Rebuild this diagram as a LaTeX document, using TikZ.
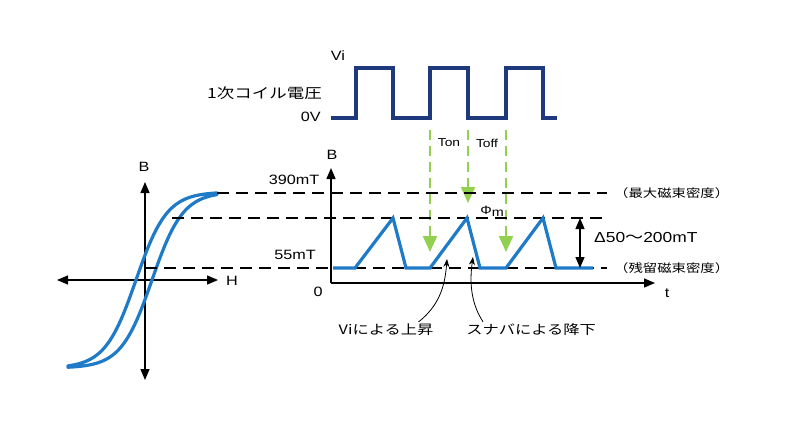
\documentclass[tikz,border=0pt]{standalone}
\usepackage{fontspec}
\setmainfont[FakeStretch=1.2]{Liberation Sans}
\newfontfamily\jp[FakeStretch=1.25]{Noto Sans CJK JP}
\usetikzlibrary{arrows.meta, positioning, calc}
\definecolor{navy}{HTML}{1F3A7C}
\definecolor{fluxblue}{HTML}{1F7AC8}
\definecolor{lgreen}{HTML}{92D050}

\begin{document}
\begin{tikzpicture}[x=1pt, y=-1pt,
    lbl/.style={inner sep=0pt, font=\fontsize{13.5}{15}\selectfont},
    jlbl/.style={inner sep=0pt, font=\jp\fontsize{13}{15}\selectfont},
    small/.style={inner sep=0pt, font=\fontsize{11.5}{13}\selectfont},
    axis/.style={line width=1.4pt, -{Triangle[length=11pt,width=9pt]}},
    guide/.style={line width=1.8pt, dash pattern=on 12pt off 7pt},
    timing/.style={lgreen, line width=2pt, dash pattern=on 10pt off 6pt},
    wave/.style={line width=3.2pt, line join=miter}
]
    \useasboundingbox (0,0) rectangle (794,436);

    % 1次コイル電圧
    \draw[wave, navy] (331,118) -- (356,118) -- (356,68) -- (393,68) -- (393,118)
        -- (430,118) -- (430,68) -- (468,68) -- (468,118) -- (506,118)
        -- (506,68) -- (543,68) -- (543,118) -- (557,118);
    \node[lbl] (vi) at (338,56) {Vi};
    \node[jlbl, anchor=east, font=\jp\fontsize{14}{16}\selectfont] (coil) at (322,93) {1次コイル電圧};
    \node[lbl, anchor=east] (zv) at (321,117) {0V};

    % Ton / Toff
    \coordinate (g1a) at (430,130);
    \coordinate (g1b) at (430,252);
    \coordinate (g2a) at (468,130);
    \coordinate (g2b) at (468,203);
    \coordinate (g3a) at (506,130);
    \coordinate (g3b) at (506,252);
    \draw[timing, -{Triangle[length=16pt,width=14pt]}] (g1a) -- (g1b);
    \draw[timing, -{Triangle[length=16pt,width=14pt]}] (g2a) -- (g2b);
    \draw[timing, -{Triangle[length=16pt,width=14pt]}] (g3a) -- (g3b);
    \node[small] (ton) at (449,143) {Ton};
    \node[small] (toff) at (487,143) {Toff};

    % B-H曲線
    \coordinate (hl) at (57,280);
    \coordinate (hr) at (218,280);
    \coordinate (bt) at (145,182);
    \coordinate (bb) at (145,380);
    \draw[axis, {Triangle[length=11pt,width=9pt]}-{Triangle[length=11pt,width=9pt]}] (hl) -- (hr);
    \draw[axis, {Triangle[length=11pt,width=9pt]}-{Triangle[length=11pt,width=9pt]}] (bb) -- (bt);
    \node[lbl] (hB) at (144,167) {B};
    \node[lbl] (hH) at (232,281) {H};
    \draw[fluxblue, line width=3.2pt, line join=round, line cap=round]
        plot[domain=68:217, samples=80] (\x, {280-88*tanh((\x-136)/31)})
        -- plot[domain=217:68, samples=80] (\x, {280-88*tanh((\x-152)/31)}) -- cycle;

    % B-t
    \coordinate (o) at (331,283);
    \coordinate (bend) at (331,168);
    \coordinate (tend) at (655,283);
    \draw[axis] (o) -- (bend);
    \draw[axis] (o) -- (tend);
    \node[lbl] (tB) at (332,155) {B};
    \node[lbl] (tt) at (667,293) {t};
    \node[lbl] (zero) at (318,292) {0};

    \draw[guide] (217,193) -- (607,193);
    \draw[guide] (172,218) -- (607,218);
    \draw[guide] (145,268) -- (607,268);
    \node[lbl] (bmax) at (294,180) {390mT};
    \node[lbl] (bres) at (295,255) {55mT};
    \node[inner sep=0pt, font=\fontsize{12}{14}\selectfont] (phim) at (492,211) {Φ\raisebox{-2pt}{m}};
    \node[jlbl, anchor=west, font=\jp\fontsize{11.5}{13}\selectfont] (nmax) at (614,193) {（最大磁束密度）};
    \node[jlbl, anchor=west, font=\jp\fontsize{11.5}{13}\selectfont] (nres) at (614,268) {（残留磁束密度）};

    \draw[wave, fluxblue] (333,268) -- (355,268) -- (393,218) -- (406,268) -- (430,268)
        -- (467,218) -- (480,268) -- (506,268) -- (543,218) -- (556,268) -- (593,268);

    % 変化幅
    \coordinate (da) at (580,218);
    \coordinate (db) at (580,268);
    \draw[line width=1.2pt, {Triangle[length=11pt,width=9pt]}-{Triangle[length=11pt,width=9pt]}] (da) -- (db);
    \node[lbl, anchor=west, font=\fontsize{14.5}{16}\selectfont] (dlt) at (594,238) {Δ50{\jp ～}200mT};

    % 注記
    \node[jlbl] (rise) at (386,330) {Viによる上昇};
    \node[jlbl] (fall) at (531,330) {スナバによる降下};
    \coordinate (rp) at (447,259);
    \coordinate (fp) at (473,257);
    \draw[line width=0.8pt, -{Stealth[length=8pt,width=6pt]}]
        ($(rise.north east)+(-15,-2)$) .. controls (440,305) and (445,285) .. (rp);
    \draw[line width=0.8pt, -{Stealth[length=8pt,width=6pt]}]
        ($(fall.north west)+(17,-2)$) .. controls (472,305) and (469,285) .. (fp);
\end{tikzpicture}
\end{document}
